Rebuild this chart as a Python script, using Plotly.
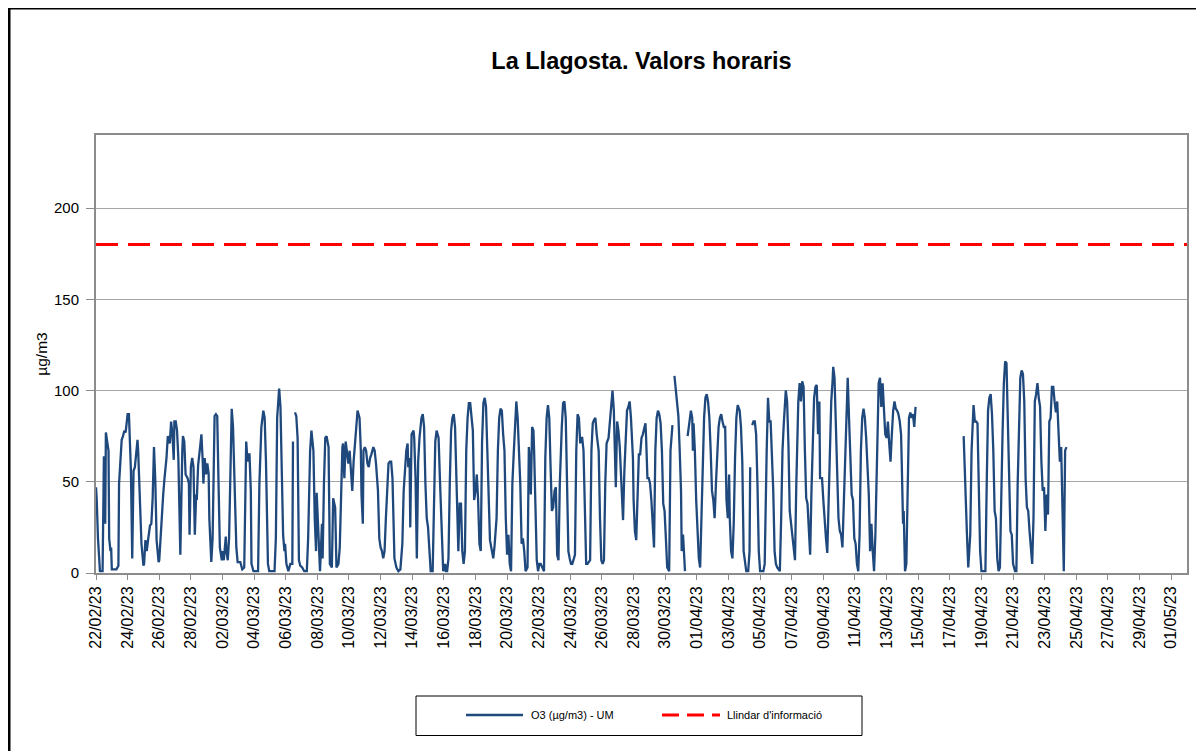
import pandas as pd
import plotly.graph_objects as go

START = pd.Timestamp("2023-02-22 00:00")
AXIS_START = "2023-02-22"
AXIS_END = "2023-05-02"
THRESHOLD = 180
TITLE = "La Llagosta. Valors horaris"
SERIES_NAME = "O3 (µg/m3) - UM"
THRESHOLD_NAME = "Llindar d'informació"
Y_TITLE = "µg/m3"

# hourly O3 readings: hours since 22/02/23 00:00 and value (None = missing)
seg1_hours = [0, 1, 3, 5, 6, 10, 12, 14, 15, 17,
              19, 20, 22, 23, 24, 31, 34, 35, 37, 39,
              41, 43, 45, 47, 48, 50, 51, 53, 55, 57,
              59, 61, 63, 64, 67, 69, 72, 73, 75, 77,
              79, 82, 84, 86, 88, 90, 92, 95, 96, 99,
              102, 104, 107, 109, 110, 112, 114, 116, 118, 119,
              121, 123, 125, 127, 128, 131, 132, 134, 136, 139,
              141, 142, 144, 146, 148, 150, 152, 153, 155, 158,
              160, 162, 163, 165, 167, 169, 171, 172, 175, 177,
              180, 182, 184, 186, 188, 191, 192, 194]
seg1_o3 = [47, 41, 19, 5, 1, 1, 64, 27, 77, 72,
           67, 19, 12, 14, 2, 2, 4, 49, 65, 73,
           75, 78, 77, 84, 87, 87, 74, 56, 8, 56,
           58, 67, 73, 67, 41, 16, 4, 5, 18, 12,
           18, 26, 27, 41, 69, 51, 18, 6, 7, 27,
           43, 52, 63, 75, 74, 71, 83, 76, 62, 83,
           83, 78, 63, 19, 10, 67, 75, 72, 54, 52,
           49, 21, 58, 63, 58, 21, 43, 40, 59, 69,
           76, 61, 49, 63, 54, 60, 54, 30, 6, 19,
           86, 87, 86, 49, 14, 7, 12, 7]

seg2_hours = [197, 198, 200, 202, 204, 206, 208, 210, 213, 215,
              219, 222, 225, 227, 228, 230, 231, 233, 235, 236,
              239, 246, 248, 251, 254, 256, 258, 261, 263, 271,
              273, 275, 277, 278, 280, 282, 284, 286, 287, 289,
              292, 295, 298, 299, 300, 302, 304, 306, 308, 310,
              313, 316, 320, 322, 325, 327, 330, 332, 334, 335,
              338, 340, 343, 344, 346, 348, 350, 353, 355, 358,
              360, 363, 365, 368, 370, 372, 374, 375, 377, 379,
              381, 383, 385, 387, 389, 391, 394, 397, 400]
seg2_o3 = [20, 12, 7, 19, 67, 90, 80, 49, 14, 6,
           6, 2, 3, 49, 72, 61, 65, 65, 45, 5,
           1, 1, 49, 80, 89, 85, 61, 5, 1, 1,
           19, 85, 94, 101, 91, 61, 21, 12, 16, 5,
           1, 5, 5, 72, None, 88, 86, 74, 7, 4,
           3, 1, 1, 19, 67, 78, 67, 30, 12, 44,
           12, 1, 27, 8, 49, 74, 75, 69, 5, 3,
           41, 36, 3, 5, 14, 52, 69, 71, 52, 72,
           67, 60, 67, 58, 45, 61, 76, 89, 85]

seg3_hours = [402, 403, 405, 406, 408, 410, 412, 414, 416, 418,
              421, 423, 425, 428, 430, 432, 434, 436, 438, 440,
              442, 444, 446, 448, 450, 451, 453, 456, 459, 462,
              465, 467, 469, 471, 473, 474, 476, 477, 479, 482,
              483, 485, 487, 489, 491, 494, 496, 498, 500, 502,
              504, 506, 508, 511, 513, 515, 517, 520, 522, 524,
              526, 527, 530, 531, 533, 535, 537, 539, 541, 543,
              545, 547, 550, 552, 554, 556, 558, 560, 562, 564,
              566, 568, 570, 572, 574, 576, 578, 580, 582, 584,
              586, 588, 590, 592, 594, 596, 598, 601, 603, 605]
seg3_o3 = [67, 43, 27, 67, 69, 67, 60, 58, 63, 65,
           69, 67, 60, 45, 19, 14, 12, 8, 12, 30,
           49, 60, 61, 61, 52, 30, 8, 3, 1, 2,
           16, 45, 56, 67, 71, 58, 63, 25, 76, 78,
           74, 52, 8, 61, 74, 85, 87, 80, 49, 30,
           25, 12, 1, 1, 49, 72, 78, 74, 52, 30,
           8, 1, 5, 1, 1, 8, 49, 78, 85, 87,
           80, 49, 12, 38, 38, 12, 5, 12, 67, 85,
           93, 93, 85, 78, 40, 45, 54, 40, 16, 12,
           72, 93, 96, 91, 67, 40, 18, 12, 8, 15]

seg4_hours = [608, 610, 612, 614, 616, 618, 620, 622, 624, 626,
              628, 630, 632, 634, 636, 638, 640, 642, 644, 646,
              648, 650, 652, 655, 657, 659, 660, 662, 664, 665,
              667, 669, 671, 673, 675, 677, 680, 682, 684, 686,
              688, 690, 692, 694, 696, 698, 700, 702, 704, 707,
              709, 711, 713, 715, 717, 719, 721, 723, 725, 727,
              729, 731, 733, 735, 736, 738, 740, 742, 744, 746,
              750, 752, 754, 756, 758, 760, 763, 765, 767, 769,
              771, 773, 775, 778, 780, 783, 784, 786, 788, 789,
              791, 793, 795, 798, 800, 802, 804, 806, 808, 810,
              812]
seg4_o3 = [30, 67, 85, 90, 89, 76, 67, 30, 10, 21,
           5, 1, 49, 65, 85, 94, 85, 67, 49, 16,
           19, 12, 1, 3, 69, 58, 43, 80, 78, 67,
           40, 7, 1, 5, 5, 3, 1, 63, 85, 92,
           85, 58, 34, 36, 45, 47, 10, 7, 49, 80,
           93, 94, 85, 49, 12, 8, 5, 5, 7, 10,
           67, 87, 85, 71, 74, 74, 67, 30, 5, 5,
           7, 67, 82, 84, 85, 76, 67, 30, 7, 5,
           7, 49, 71, 74, 83, 94, 100, 89, 58, 47,
           83, 78, 69, 38, 29, 56, 78, 89, 91, 94,
           85]

seg5_hours = [815, 816, 818, 820, 822, 824, 826, 828, 830, 832,
              834, 835, 837, 839, 841, 843, 845, 847, 849, 851,
              853, 855, 857, 859, 861, 863, 865, 867, 870, 872,
              875, 876, 878, 879, 881, 884, 886, 888, 889, 891,
              893, 894, 896, 898, 901, 903, 905, 906, 907, 909,
              911, 913, 915, 917, 919, 921, 923, 925, 927, 929,
              931, 933, 935, 937, 939, 941, 943, 945, 947, 949,
              951, 953, 955, 957, 959, 961, 962, 964, 966, 968,
              970, 972, 974, 977, 979, 981, 983, 985, 987, 990,
              992, 993, 994, 996, 998, 1000, 1002, 1004, 1006, 1008,
              1013, 1015]
seg5_o3 = [63, 40, 23, 18, 49, 65, 65, 74, 76, 80,
           82, 74, 52, 52, 49, 40, 23, 14, 67, 85,
           89, 87, 82, 67, 38, 34, 19, 3, 1, 67,
           81, None, 108, 104, 94, 86, 67, 45, 12, 21,
           8, 1, None, 75, 85, 89, 85, 67, 82, 67,
           40, 21, 8, 3, 30, 67, 85, 96, 98, 94,
           85, 67, 45, 40, 30, 49, 67, 80, 85, 87,
           83, 80, 80, 40, 30, 54, 30, 12, 8, 27,
           63, 85, 92, 89, 80, 61, 12, 5, 1, 1,
           12, 58, None, 81, 83, 83, 76, 49, 12, 1,
           1, 5]

seg6_hours = [1016, 1018, 1020, 1022, 1024, 1026, 1028, 1030, 1032, 1034,
              1036, 1038, 1040, 1042, 1044, 1046, 1047, 1049, 1051, 1053,
              1055, 1057, 1059, 1061, 1063, 1065, 1066, 1068, 1070, 1072,
              1074, 1076, 1078, 1080, 1082, 1084, 1086, 1088, 1090, 1092,
              1094, 1096, 1098, 1099, 1102, 1104, 1106, 1108, 1110, 1112,
              1114, 1116, 1118, 1119, 1121, 1123, 1125, 1127, 1129, 1131,
              1133, 1135, 1137, 1139, 1141, 1143, 1145, 1147, 1149, 1151,
              1153, 1155, 1157, 1159, 1161, 1163, 1165, 1167, 1169, 1171,
              1173, 1175, 1177, 1179, 1181, 1183, 1186, 1188, 1190, 1192,
              1194, 1196, 1198, 1200, 1202, 1204, 1206, 1208, 1210, 1212,
              1214, 1216, 1218, 1220]
seg6_o3 = [30, 67, 96, 83, 83, 67, 45, 12, 5, 3,
           2, 1, 30, 67, 82, 94, 100, 94, 71, 34,
           27, 21, 16, 7, 49, 85, 94, 104, 94, 105,
           102, 67, 41, 38, 27, 10, 45, 76, 96, 102,
           103, 76, 94, 52, 52, 40, 27, 19, 11, 40,
           67, 94, 105, 113, 107, 76, 49, 30, 23, 21,
           14, 40, 67, 85, 107, 85, 67, 43, 40, 19,
           16, 5, 1, 21, 67, 85, 90, 85, 74, 58,
           43, 12, 27, 12, 1, 21, 85, 104, 107, 91,
           104, 91, 76, 74, 83, 71, 61, 76, 89, 94,
           90, 89, 87, 83]

seg7_hours = [1222, 1223, 1225, 1226, 1227, 1228, 1230, 1232, 1234, 1236,
              1238, 1240, 1242, 1244, 1280, 1317, 1319, 1322, 1324, 1327,
              1329, 1331, 1332, 1334, 1336, 1338, 1340, 1342, 1344, 1350,
              1352, 1354, 1356, 1358, 1360, 1362, 1364, 1366, 1368, 1370,
              1372, 1374, 1376, 1378, 1380, 1382, 1384, 1386, 1388, 1390,
              1392, 1395, 1397, 1399, 1401, 1403, 1405, 1407, 1409, 1411,
              1413, 1415, 1417, 1419, 1421, 1423, 1425, 1427, 1429, 1431,
              1433, 1435, 1437, 1439, 1441, 1443, 1445, 1447, 1449, 1451,
              1453, 1455, 1457, 1459, 1461, 1463, 1465, 1467, 1469, 1471,
              1473]
seg7_o3 = [76, 61, 27, 34, 14, 1, 5, 49, 85, 88,
           85, 87, 80, 91, None, 75, 49, 21, 3, 21,
           67, 85, 92, 83, 83, 82, 49, 12, 1, 1,
           49, 89, 96, 98, 87, 67, 34, 30, 8, 1,
           3, 49, 76, 104, 116, 115, 85, 43, 23, 21,
           5, 1, 1, 49, 85, 107, 111, 109, 94, 52,
           36, 34, 23, 12, 5, 30, 94, 98, 104, 96,
           91, 61, 45, 47, 23, 43, 32, 83, 85, 102,
           102, 94, 88, 94, 76, 61, 69, 30, 1, 67,
           69]

hours = []
o3 = []
for h_list, v_list in [(seg1_hours, seg1_o3), (seg2_hours, seg2_o3),
                       (seg3_hours, seg3_o3), (seg4_hours, seg4_o3),
                       (seg5_hours, seg5_o3), (seg6_hours, seg6_o3),
                       (seg7_hours, seg7_o3)]:
    assert len(h_list) == len(v_list), (len(h_list), len(v_list))
    hours.extend(h_list)
    o3.extend(v_list)

times = START + pd.to_timedelta(hours, unit="h")

FONT = "Liberation Sans, Arial, sans-serif"
BLUE = "#1F497D"
RED = "#FF0000"

fig = go.Figure()
fig.add_trace(go.Scatter(
    x=times, y=o3, mode="lines", name=SERIES_NAME,
    line=dict(color=BLUE, width=2.3), connectgaps=False,
))
fig.add_trace(go.Scatter(
    x=[AXIS_START, AXIS_END], y=[THRESHOLD, THRESHOLD], mode="lines",
    name=THRESHOLD_NAME,
    line=dict(color=RED, width=3, dash="22px,10px"),
))

# the page body adds an 8px margin, so the figure is drawn 8px smaller
PAGE_OFF = 8
W, H = 1204 - PAGE_OFF, 751 - PAGE_OFF
# plot area in page pixels: left 96, top 135, right 1187, bottom 573
L, T = 96 - PAGE_OFF, 135 - PAGE_OFF
R, B = 1204 - 1187, 751 - 573
pw, ph = W - L - R, H - T - B


def px_x(x):  # page pixel -> paper fraction
    return (x - 96) / pw


def px_y(y):
    return (573 - y) / ph


LEG_Y = px_y(715)

shapes = [
    # outer chart frame (extends past the visible window on right/bottom)
    dict(type="rect", xref="paper", yref="paper",
         x0=px_x(9), x1=px_x(1215), y0=px_y(770), y1=px_y(8),
         line=dict(color="black", width=3), fillcolor="rgba(0,0,0,0)",
         layer="below"),
    # legend box
    dict(type="rect", xref="paper", yref="paper",
         x0=px_x(416), x1=px_x(862), y0=px_y(735.5), y1=px_y(696),
         line=dict(color="black", width=1), fillcolor="rgba(0,0,0,0)"),
    # legend samples
    dict(type="line", xref="paper", yref="paper",
         x0=px_x(466), x1=px_x(523), y0=LEG_Y, y1=LEG_Y,
         line=dict(color=BLUE, width=2.5)),
    dict(type="line", xref="paper", yref="paper",
         x0=px_x(662), x1=px_x(720), y0=LEG_Y, y1=LEG_Y,
         line=dict(color=RED, width=3, dash="17px,8px")),
]

annotations = [
    dict(text=SERIES_NAME, xref="paper", yref="paper", x=px_x(529), y=LEG_Y,
         xanchor="left", yanchor="middle", showarrow=False,
         font=dict(family=FONT, size=11, color="black")),
    dict(text=THRESHOLD_NAME, xref="paper", yref="paper", x=px_x(724.5),
         y=LEG_Y, xanchor="left", yanchor="middle", showarrow=False,
         font=dict(family=FONT, size=11, color="black")),
]

fig.update_layout(
    width=W, height=H,
    margin=dict(l=L, r=R, t=T, b=B),
    paper_bgcolor="white", plot_bgcolor="white",
    font=dict(family=FONT, color="black", size=15),
    title=dict(text=TITLE, x=0.5, xref="paper",
               y=1 - (61 - PAGE_OFF) / H, yref="container",
               xanchor="center", yanchor="middle",
               font=dict(family=FONT, size=23.5, color="black", weight="bold")),
    showlegend=False,
    xaxis=dict(
        type="date", range=[AXIS_START, AXIS_END],
        tick0=AXIS_START, dtick=2 * 86400000, tickformat="%d/%m/%y",
        tickangle=-90, tickfont=dict(family=FONT, size=16),
        showgrid=False, showline=True, mirror=True,
        linecolor="#8C8C8C", linewidth=2,
        ticks="outside", ticklen=5, tickcolor="#8C8C8C",
    ),
    yaxis=dict(
        range=[0, 240], tickvals=[0, 50, 100, 150, 200],
        tickfont=dict(family=FONT, size=15),
        showgrid=True, gridcolor="#A6A6A6", gridwidth=1,
        showline=True, mirror=True, linecolor="#8C8C8C", linewidth=2,
        ticks="outside", ticklen=8, tickcolor="#8C8C8C",
        ticklabelstandoff=4,
        zeroline=False,
        title=dict(text=Y_TITLE, font=dict(family=FONT, size=15.5), standoff=3),
    ),
    shapes=shapes,
    annotations=annotations,
)

fig.write_html("out.html")
